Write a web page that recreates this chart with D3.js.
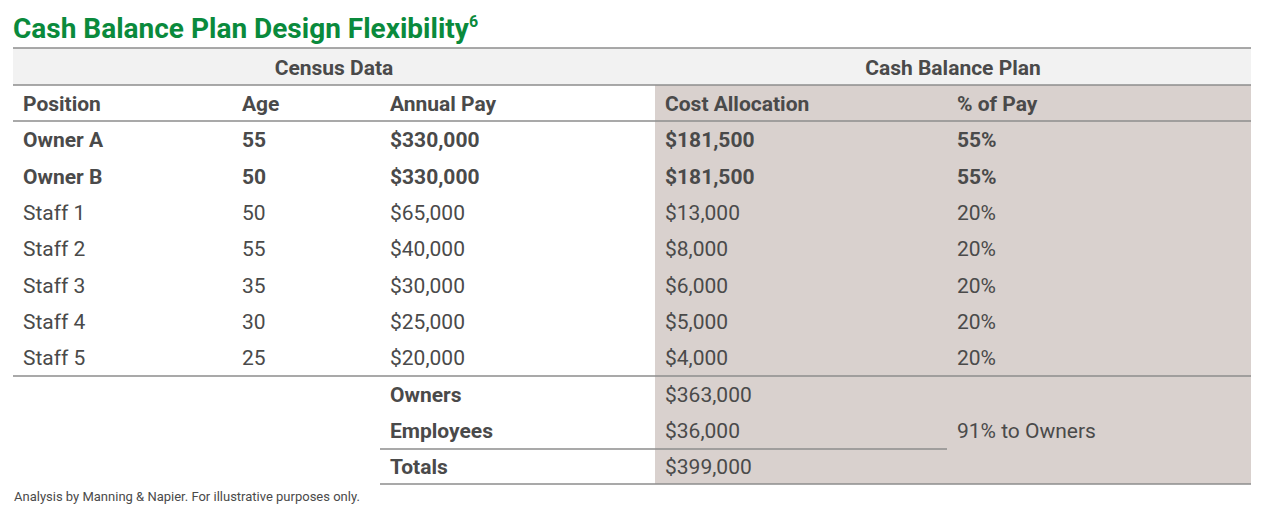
<!DOCTYPE html><html><head><meta charset="utf-8">
<script src="https://cdn.jsdelivr.net/npm/d3@7"></script>
<style>body{margin:0;background:#fff}</style></head><body>
<svg id="c" width="1271" height="516"></svg>
<script>
const columns = ["Position","Age","Annual Pay","Cost Allocation","% of Pay"];
const positions = ["Owner A","Owner B","Staff 1","Staff 2","Staff 3","Staff 4","Staff 5"];
const ages = [55,50,50,55,35,30,25];
const pay = [330000,330000,65000,40000,30000,25000,20000];
const allocation = [181500,181500,13000,8000,6000,5000,4000];
const pctPay = [55,55,20,20,20,20,20];
const summaryLabels = ["Owners","Employees","Totals"];
const summaryValues = [363000,36000,399000];
const ownersShare = "91% to Owners";

const svg = d3.select("#c");
const font = "Roboto, sans-serif", ink = "#4a4a4a";
const colX = d3.scaleOrdinal().domain(columns).range([23,242,390,665,957]);
const rowY = d3.scaleBand().domain(d3.range(11)).range([85,485]);
const fmt = d3.format("$,");
const L = 13, R = 1251;

svg.append("rect").attr("x",L).attr("y",48).attr("width",R-L).attr("height",37).attr("fill","#f2f2f2");
svg.append("rect").attr("x",655).attr("y",85).attr("width",R-655).attr("height",399).attr("fill","#d9d1ce");
const line=(x1,x2,y)=>svg.append("line").attr("x1",x1).attr("x2",x2).attr("y1",y).attr("y2",y).attr("stroke","#8c8c8c").attr("stroke-width",1.3);
line(L,R,48);line(L,R,85);line(L,R,121);line(L,R,376);line(380,947,449);line(380,R,484);

svg.append("text").attr("x",13).attr("y",38).attr("font-family",font).attr("font-weight",700).attr("font-size",28).attr("fill","#0a8a3c")
 .text("Cash Balance Plan Design Flexibility").append("tspan").attr("font-size",16).attr("dy",-11).text("6");
const txt=(x,y,s,b,anchor)=>svg.append("text").attr("x",x).attr("y",y).attr("dy","0.35em").attr("font-family",font)
 .attr("font-size",21).attr("font-weight",b?700:400).attr("fill",ink).attr("text-anchor",anchor||"start").text(s);
txt(334,68,"Census Data",true,"middle");
txt(953,68,"Cash Balance Plan",true,"middle");
columns.forEach(c=>txt(colX(c),104,c,true));
const y0 = i => 140 + i*36.3;
positions.forEach((p,i)=>{
  const b = i<2;
  txt(colX(columns[0]),y0(i),p,b);
  txt(colX(columns[1]),y0(i),ages[i],b);
  txt(colX(columns[2]),y0(i),fmt(pay[i]),b);
  txt(colX(columns[3]),y0(i),fmt(allocation[i]),b);
  txt(colX(columns[4]),y0(i),pctPay[i]+"%",b);
});
summaryLabels.forEach((s,i)=>{
  txt(colX(columns[2]),395+i*36,s,true);
  txt(colX(columns[3]),395+i*36,fmt(summaryValues[i]),false);
});
txt(colX(columns[4]),431,ownersShare,false);
svg.append("text").attr("x",14).attr("y",501).attr("font-family",font).attr("font-size",13).attr("fill",ink)
 .text("Analysis by Manning & Napier. For illustrative purposes only.");
</script></body></html>
